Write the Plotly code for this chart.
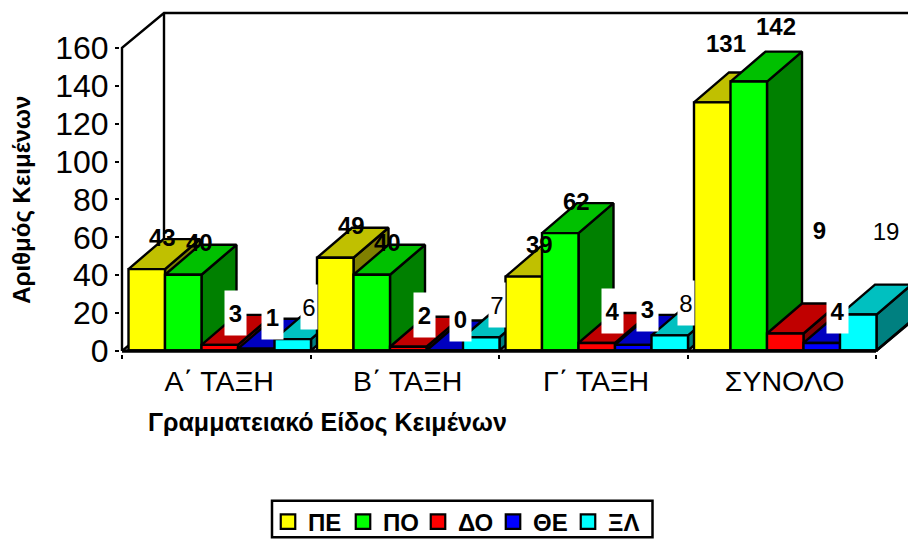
import plotly.graph_objects as go

categories = ["Α΄ ΤΑΞΗ", "Β΄ ΤΑΞΗ", "Γ΄ ΤΑΞΗ", "ΣΥΝΟΛΟ"]
series_names = ["ΠΕ", "ΠΟ", "ΔΟ", "ΘΕ", "ΞΛ"]
pe = [43, 49, 39, 131]
po = [40, 40, 62, 142]
do_ = [3, 2, 4, 9]
the = [1, 0, 3, 4]
xl = [6, 7, 8, 19]
y_ticks = [0, 20, 40, 60, 80, 100, 120, 140, 160]
values = [pe, po, do_, the, xl]

front = ["#FFFF00", "#00FF00", "#FF0000", "#0000FF", "#00FFFF"]
top_c = ["#C0C000", "#00C000", "#C00000", "#0000C0", "#00C0C0"]
side_c = ["#808000", "#008000", "#800000", "#000080", "#008080"]

# pixel geometry of the oblique projection
W, H = 908, 539
PX_X = 188.5          # px per category
PX_Y = 1.897          # px per value unit
X0_PX, Y0_PX = 122, 351.5
PAD_L, PAD_B = 2, 3
L = X0_PX - PAD_L
B = H - (Y0_PX + PAD_B)
T = 10
xr = [-PAD_L / PX_X, (W - X0_PX) / PX_X]
yr = [-PAD_B / PX_Y, (Y0_PX - T) / PX_Y]
WALL_DX, WALL_DY = 42 / PX_X, 35 / PX_Y
BAR_DX, BAR_DY = 35 / PX_X, 30 / PX_Y
BAR_W = 36.5 / PX_X
BAR_X0 = 6.5 / PX_X
BASE = 0.25
LW = 2.4

fig = go.Figure()


def line(xs, ys, width=2.4):
    fig.add_trace(go.Scatter(x=xs, y=ys, mode="lines", line=dict(color="black", width=width),
                             showlegend=False, hoverinfo="skip"))


def poly(xs, ys, color):
    fig.add_trace(go.Scatter(x=xs + xs[:1], y=ys + ys[:1], mode="lines", fill="toself", fillcolor=color,
                             line=dict(color="black", width=LW), showlegend=False, hoverinfo="skip"))


# walls
n = len(categories)
line([xr[1] + 1, WALL_DX, 0, 0], [y_ticks[-1] + WALL_DY, y_ticks[-1] + WALL_DY, y_ticks[-1], 0])
line([WALL_DX, WALL_DX], [y_ticks[-1] + WALL_DY, WALL_DY])
line([0, WALL_DX], [0, WALL_DY])

# bars, painted back to front
for c in range(n):
    for s, vals in enumerate(values):
        v = vals[c] + BASE
        x0 = c + BAR_X0 + s * BAR_W
        x1 = x0 + BAR_W
        poly([x1, x1 + BAR_DX, x1 + BAR_DX, x1], [BASE, BASE + BAR_DY, v + BAR_DY, v], side_c[s])
        poly([x0, x1, x1 + BAR_DX, x0 + BAR_DX], [v, v, v + BAR_DY, v + BAR_DY], top_c[s])
        poly([x0, x1, x1, x0], [BASE, BASE, v, v], front[s])

# front floor edge
line([0, n], [0, 0], 3.4)
line([n, n + WALL_DX], [0, WALL_DY], 2.4)

# legend entries
for s, name in enumerate(series_names):
    fig.add_trace(go.Scatter(x=[None], y=[None], mode="markers", name=name,
                             marker=dict(symbol="square", size=14.5, color=front[s],
                                         line=dict(color="black", width=2.2))))

# value labels: shift from the bar's front-top centre, px
shift_default = (16, 32)
shift_over = {
    (3, 0): (13.5, 59), (3, 1): (27, 55), (3, 2): (34.5, 103), (3, 4): (27.5, 84),
    (2, 3): (14.5, 36),
}
for c in range(n):
    for s, vals in enumerate(values):
        dx, dy = shift_over.get((c, s), shift_default)
        kw = {}
        if s >= 2:
            kw = dict(bgcolor="white", height=44, width=(16 if s == 4 else 21), valign="middle")
            if vals[c] >= 10:
                kw["width"] = 30
        fig.add_annotation(x=c + BAR_X0 + (s + 0.5) * BAR_W, y=vals[c] + BASE, text=str(vals[c]),
                           showarrow=False, xshift=dx, yshift=dy, borderpad=0,
                           xanchor="center", yanchor="middle",
                           font=dict(family="Liberation Sans", size=24, color="black",
                                     weight=("normal" if s == 4 else "bold")), **kw)

plot_w = W - L
plot_h = H - T - B


def px_x(p):
    return (p - L) / plot_w


def px_y(p):
    return (H - B - p) / plot_h


fig.add_annotation(x=px_x(22), y=px_y(200), xref="paper", yref="paper", text="<b>Αριθμός Κειμένων</b>",
                   textangle=-90, showarrow=False, xanchor="center", yanchor="middle",
                   font=dict(family="Liberation Sans", size=24, color="black"))
fig.add_annotation(x=px_x(327.5), y=px_y(423), xref="paper", yref="paper", text="<b>Γραμματειακό Είδος Κειμένων</b>",
                   showarrow=False, xanchor="center", yanchor="middle",
                   font=dict(family="Liberation Sans", size=25, color="black"))

# legend frame
fig.add_shape(type="rect", xref="paper", yref="paper", x0=px_x(272), x1=px_x(652.5), y0=px_y(501.5), y1=px_y(538),
              line=dict(color="black", width=2.5), fillcolor="rgba(0,0,0,0)")

fig.update_layout(
    width=W, height=H, margin=dict(l=L, r=0, t=T, b=B), autosize=False,
    paper_bgcolor="white", plot_bgcolor="white",
    font=dict(family="Liberation Sans", color="black"),
    legend=dict(orientation="h", xref="container", yref="container", x=268 / W, y=(H - 499.5) / H,
                xanchor="left", yanchor="top",
                borderwidth=0, bgcolor="rgba(0,0,0,0)", itemwidth=30, entrywidth=30, entrywidthmode="pixels",
                font=dict(family="Liberation Sans", size=24, weight="bold", color="black")),
    xaxis=dict(range=xr, showgrid=False, zeroline=False, showline=False,
               tickmode="array", tickvals=[i + 0.515 for i in range(n)], ticktext=categories,
               ticks="", tickfont=dict(size=28.5), ticklabelstandoff=7,
               minor=dict(ticks="outside", ticklen=4, tickwidth=2, tickcolor="black", tickmode="linear",
                          tick0=0, dtick=1, showgrid=False)),
    yaxis=dict(range=yr, showgrid=False, zeroline=False, showline=False,
               tickmode="array", tickvals=y_ticks, ticks="outside", ticklen=4, tickwidth=2, tickcolor="black",
               tickfont=dict(size=32)),
)

fig.write_html("out.html", config={"displayModeBar": False},
               post_script="document.body.style.margin='0';document.body.style.overflow='hidden';")
